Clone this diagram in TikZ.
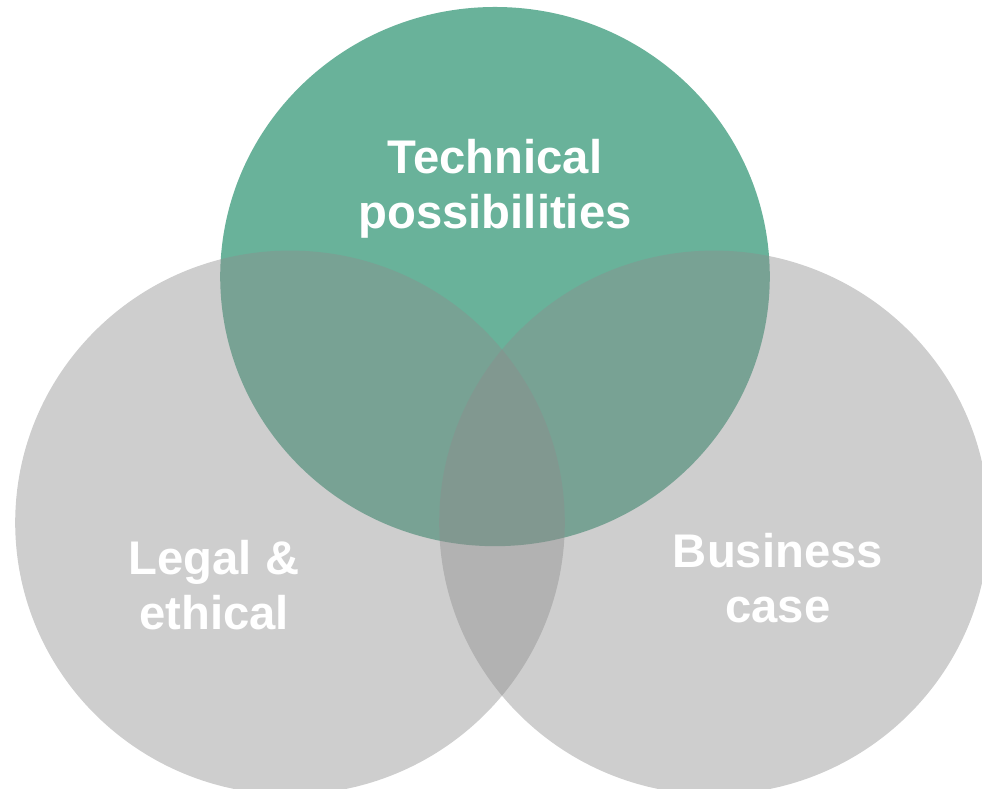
\documentclass[tikz,border=0pt]{standalone}
\usepackage{fontspec}
\setmainfont{Liberation Sans}
\definecolor{techgreen}{HTML}{69B29A}
\definecolor{venngray}{HTML}{8D8D8D}
\tikzset{
    venn text/.style={text=white, align=center, font=\bfseries\fontsize{33.6pt}{39.3pt}\selectfont},
}
\begin{document}
\begin{tikzpicture}
    \useasboundingbox (0,0) rectangle (24.55,19.725);
    \fill[techgreen] (12.375,12.81) ellipse [x radius=6.87, y radius=6.74];
    \foreach \cx in {7.25, 17.85} {
        \fill[venngray, opacity=0.43] (\cx,6.66) ellipse [x radius=6.87, y radius=6.8];
    }
    \node[venn text] (tech) at (12.375,15.01) {Technical\\possibilities};
    \node[venn text] (legal) at (5.35,5.1) {Legal \&\\ethical};
    \node[venn text] (biz) at (19.45,5.27) {Business\\case};
\end{tikzpicture}
\end{document}
